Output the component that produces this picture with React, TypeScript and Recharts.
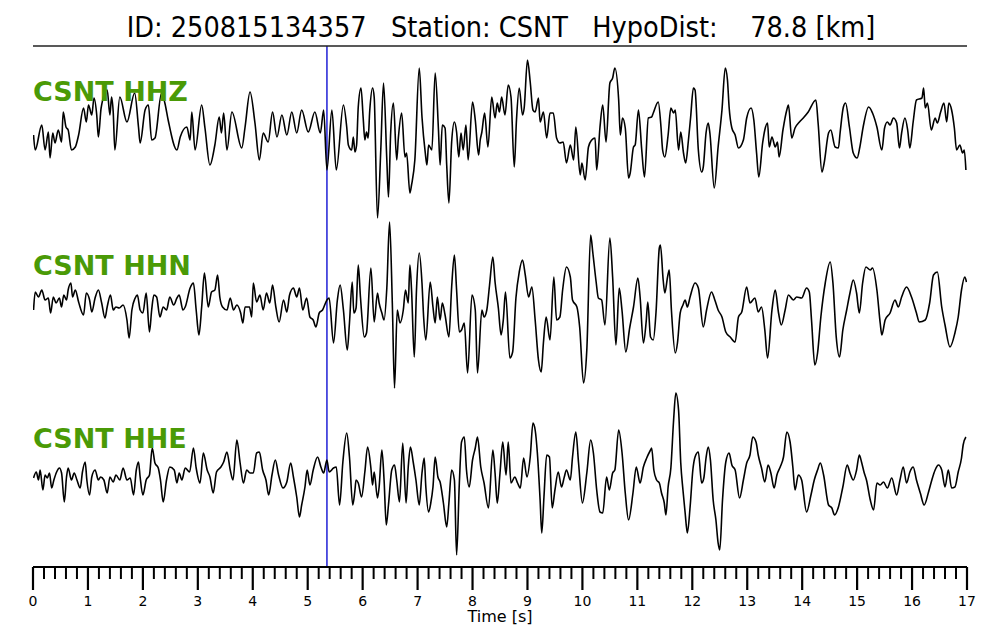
import React from 'react';
import { LineChart, Line, XAxis, YAxis, ReferenceLine } from 'recharts';

// waveform turning points: [time (s), amplitude]
const hhz: [number, number][] = [
  [0.01, -5], [0.04, -20], [0.16, 5], [0.22, -20], [0.28, -2], [0.31, -28], [0.36, -3], [0.40, -13], [0.46, 0], [0.52, -12],
  [0.55, 18], [0.60, 3], [0.64, 0], [0.70, -20], [0.77, -17], [0.83, -5], [0.92, 22], [0.97, 8], [1.01, 25], [1.07, 15],
  [1.11, 32], [1.16, 15], [1.19, -7], [1.24, 22], [1.35, 40], [1.40, 15], [1.43, 33], [1.46, 18], [1.49, -20], [1.58, 33],
  [1.71, 8], [1.85, 37], [1.92, 3], [1.95, -13], [2.04, 20], [2.10, 25], [2.16, -10], [2.22, -8], [2.34, 37], [2.40, 27],
  [2.46, 10], [2.62, -20], [2.68, -7], [2.80, 3], [2.86, -10], [2.89, 18], [2.95, -20], [3.07, 25], [3.13, 2], [3.22, -35],
  [3.31, -15], [3.39, 13], [3.43, -3], [3.47, 17], [3.53, -20], [3.62, 18], [3.80, -18], [3.86, 3], [3.95, 38], [4.04, 7],
  [4.12, -30], [4.19, -3], [4.28, -12], [4.36, 18], [4.44, -7], [4.53, 15], [4.62, -5], [4.71, 18], [4.80, -3], [4.89, 20],
  [5.01, -2], [5.13, 18], [5.23, -3], [5.29, 20], [5.35, -40], [5.44, 20], [5.52, -40], [5.65, 25], [5.71, 3], [5.74, -15],
  [5.80, -20], [5.83, -7], [5.86, -22], [5.89, -15], [5.92, 23], [5.97, 42], [6.01, 12], [6.04, -10], [6.07, -2], [6.10, -8],
  [6.13, 20], [6.18, 42], [6.21, 33], [6.27, -88], [6.33, -20], [6.38, 47], [6.44, -30], [6.47, -67], [6.51, -3], [6.56, 27],
  [6.62, -30], [6.65, -8], [6.71, 17], [6.77, -27], [6.80, -23], [6.86, -63], [6.89, -55], [6.95, -30], [7.03, 62], [7.08, 13],
  [7.14, -23], [7.17, -35], [7.20, -15], [7.26, -20], [7.32, 57], [7.38, 0], [7.41, -35], [7.45, 5], [7.50, 2], [7.53, -35],
  [7.57, -73], [7.62, -12], [7.67, 8], [7.71, -2], [7.75, -27], [7.79, -3], [7.83, -20], [7.88, 5], [7.92, -30], [8.00, 28],
  [8.05, 10], [8.11, -25], [8.14, -10], [8.17, -2], [8.22, 17], [8.28, -17], [8.35, 33], [8.41, 12], [8.45, 27], [8.49, 18],
  [8.53, 33], [8.59, 15], [8.65, 45], [8.70, 33], [8.76, -37], [8.80, 10], [8.85, 42], [8.91, 15], [8.94, 22], [9.00, 70],
  [9.05, 48], [9.10, 20], [9.14, 18], [9.20, 32], [9.23, 8], [9.29, 18], [9.35, -8], [9.41, 17], [9.47, 17], [9.53, -8],
  [9.59, -13], [9.65, -12], [9.71, -33], [9.78, -15], [9.84, -30], [9.88, 3], [9.96, -45], [9.99, -33], [10.05, -50], [10.11, -17],
  [10.17, -10], [10.23, -8], [10.26, -40], [10.32, 3], [10.37, 25], [10.43, -12], [10.50, 47], [10.55, 52], [10.59, 62], [10.66, 30],
  [10.69, -5], [10.73, 12], [10.78, 2], [10.84, -48], [10.87, -43], [10.93, -17], [10.96, -15], [11.02, 20], [11.08, -20], [11.13, -47],
  [11.20, 12], [11.26, 13], [11.29, 17], [11.38, 28], [11.43, 3], [11.46, -20], [11.50, -27], [11.56, -5], [11.61, 22], [11.66, 17],
  [11.69, 20], [11.75, -20], [11.79, -2], [11.84, -23], [11.88, -33], [11.93, -10], [11.97, 13], [12.02, 42], [12.05, 40], [12.11, -20],
  [12.17, -42], [12.20, -37], [12.25, -3], [12.29, 7], [12.32, -3], [12.40, -58], [12.47, -17], [12.54, 20], [12.60, 62], [12.64, 50],
  [12.67, 23], [12.72, 2], [12.78, -5], [12.84, -18], [12.93, -10], [12.99, 12], [13.07, 22], [13.12, 10], [13.17, -23], [13.21, -47],
  [13.28, -13], [13.32, 0], [13.37, 7], [13.40, -17], [13.45, -7], [13.51, -17], [13.55, -12], [13.58, -27], [13.65, 0], [13.72, 20],
  [13.75, 25], [13.81, -8], [13.87, 2], [13.95, 8], [14.02, 12], [14.11, 18], [14.25, 30], [14.29, 7], [14.36, -42], [14.40, -33],
  [14.48, -3], [14.52, 0], [14.60, -17], [14.66, -18], [14.69, -3], [14.75, 23], [14.79, 27], [14.86, 3], [14.93, -23], [15.00, -28],
  [15.05, -17], [15.11, 3], [15.21, 23], [15.28, 17], [15.36, 3], [15.45, -20], [15.50, 2], [15.55, 8], [15.60, 5], [15.66, 12],
  [15.72, 7], [15.77, -18], [15.81, -3], [15.87, 12], [15.92, 0], [15.96, -18], [16.02, 8], [16.08, 30], [16.18, 32], [16.21, 42],
  [16.24, 22], [16.28, 27], [16.35, 0], [16.42, 12], [16.46, 7], [16.52, 18], [16.58, 27], [16.63, 8], [16.67, 27], [16.72, 20],
  [16.77, 2], [16.81, -20], [16.87, -15], [16.92, -23], [16.95, -20], [16.98, -40],
];

const hhn: [number, number][] = [
  [0.01, -10], [0.04, 8], [0.10, 3], [0.16, 10], [0.22, 0], [0.28, 2], [0.32, -13], [0.37, 3], [0.42, -3], [0.48, 2],
  [0.52, -7], [0.56, 5], [0.61, 0], [0.64, 10], [0.69, 17], [0.72, 3], [0.77, 10], [0.83, -2], [0.92, -15], [0.97, 7],
  [1.03, 0], [1.07, -12], [1.13, 2], [1.19, 10], [1.25, -3], [1.31, -18], [1.35, -7], [1.41, 5], [1.46, -10], [1.51, -7],
  [1.57, -8], [1.64, -5], [1.71, -20], [1.75, -38], [1.80, -10], [1.86, 2], [1.90, 5], [1.95, -10], [2.00, -13], [2.06, 7],
  [2.12, -32], [2.16, -10], [2.20, 5], [2.25, 3], [2.31, -17], [2.37, -7], [2.43, -10], [2.49, 3], [2.56, -5], [2.62, 2],
  [2.66, 5], [2.73, -10], [2.77, -7], [2.86, 12], [2.92, 17], [2.97, -10], [3.02, -35], [3.07, -7], [3.12, 27], [3.19, -7],
  [3.25, 8], [3.31, 10], [3.36, 25], [3.40, 3], [3.45, -7], [3.53, -10], [3.59, 2], [3.65, -10], [3.71, -5], [3.78, -13],
  [3.82, -23], [3.86, -7], [3.94, -7], [3.98, -17], [4.01, 17], [4.07, -2], [4.13, 5], [4.19, -10], [4.25, 7], [4.31, -3],
  [4.36, 15], [4.42, -7], [4.48, -22], [4.56, 0], [4.62, -12], [4.67, 5], [4.74, 12], [4.80, 3], [4.85, 12], [4.91, -10],
  [4.98, 2], [5.04, -17], [5.10, -20], [5.15, -27], [5.21, -13], [5.27, -10], [5.35, 0], [5.39, 2], [5.47, -43], [5.54, 0],
  [5.59, 15], [5.65, -10], [5.72, -50], [5.76, -23], [5.81, 18], [5.84, -13], [5.88, -8], [5.92, 35], [5.96, 3], [6.03, -37],
  [6.07, -33], [6.15, 32], [6.21, -22], [6.27, 7], [6.30, -3], [6.35, -13], [6.39, -20], [6.44, 12], [6.49, 78], [6.54, -3],
  [6.58, -88], [6.63, -10], [6.68, -23], [6.74, -10], [6.78, 10], [6.83, -3], [6.86, 35], [6.89, 10], [6.94, -57], [6.98, 10],
  [7.03, 47], [7.08, 17], [7.11, -17], [7.15, -40], [7.23, 18], [7.28, -7], [7.32, -23], [7.36, 3], [7.41, -20], [7.45, -3],
  [7.50, -15], [7.57, -37], [7.62, 13], [7.67, 45], [7.71, 10], [7.76, -32], [7.80, -30], [7.85, -23], [7.91, -73], [7.99, 5],
  [8.05, -10], [8.09, -73], [8.17, -10], [8.21, -17], [8.26, -10], [8.31, 15], [8.37, 43], [8.41, 18], [8.47, -8], [8.52, -35],
  [8.56, -20], [8.60, 8], [8.68, -58], [8.73, -52], [8.79, 2], [8.85, 28], [8.91, 40], [8.96, 25], [9.02, 3], [9.08, 13],
  [9.14, -20], [9.20, -60], [9.25, -72], [9.29, -43], [9.34, -17], [9.41, -40], [9.48, 23], [9.53, -20], [9.59, -17], [9.64, 10],
  [9.71, 33], [9.78, 23], [9.82, 0], [9.90, -7], [9.95, -27], [10.02, -83], [10.08, -50], [10.15, 65], [10.19, 47], [10.25, 18],
  [10.29, 2], [10.35, 0], [10.41, -25], [10.50, 62], [10.55, 23], [10.61, -45], [10.67, 12], [10.72, -10], [10.79, -52], [10.86, -28],
  [10.93, -7], [11.01, 22], [11.05, 3], [11.11, -43], [11.16, -22], [11.19, -2], [11.24, -37], [11.29, -40], [11.34, -12], [11.40, 52],
  [11.42, 55], [11.47, 20], [11.50, 7], [11.55, 23], [11.58, 30], [11.62, -10], [11.69, -53], [11.73, -43], [11.78, -13], [11.83, -5],
  [11.87, 0], [11.91, -7], [11.96, 3], [12.05, 17], [12.11, 12], [12.20, -27], [12.26, -10], [12.35, 8], [12.41, 0], [12.47, -10],
  [12.54, -17], [12.61, -32], [12.69, -37], [12.78, -42], [12.84, -17], [12.90, -12], [12.99, 13], [13.05, -3], [13.14, 2], [13.20, -12],
  [13.26, -7], [13.32, -30], [13.37, -58], [13.45, -10], [13.51, 10], [13.57, -13], [13.62, -25], [13.69, -10], [13.75, 5], [13.84, 0],
  [13.90, 3], [13.99, 2], [14.08, 12], [14.13, 8], [14.17, -20], [14.23, -65], [14.28, -53], [14.34, -17], [14.42, 17], [14.51, 38],
  [14.56, 17], [14.62, -37], [14.68, -57], [14.74, -30], [14.81, -10], [14.87, 7], [14.93, 20], [14.99, 7], [15.04, -13], [15.10, 17],
  [15.16, 33], [15.24, 30], [15.28, 32], [15.36, 10], [15.42, -23], [15.45, -35], [15.51, -20], [15.60, -13], [15.69, 0], [15.75, -7],
  [15.81, 3], [15.90, 13], [15.99, 3], [16.08, -13], [16.13, -22], [16.24, -20], [16.32, -3], [16.39, 25], [16.46, 28], [16.54, -7],
  [16.60, -25], [16.69, -47], [16.78, -33], [16.84, -17], [16.90, 10], [16.96, 23], [16.99, 18],
];

const hhe: [number, number][] = [
  [0.01, -8], [0.06, -2], [0.10, -10], [0.13, 0], [0.18, -20], [0.22, -5], [0.26, -8], [0.30, -3], [0.34, -18], [0.38, -10],
  [0.43, -2], [0.48, 2], [0.52, -3], [0.57, -32], [0.61, -7], [0.64, 2], [0.70, -10], [0.75, -3], [0.80, -10], [0.86, -18],
  [0.90, -2], [0.95, 8], [0.98, -10], [1.03, -25], [1.07, -7], [1.13, 0], [1.19, -10], [1.23, -7], [1.29, -10], [1.35, -23],
  [1.40, -7], [1.46, -12], [1.51, -5], [1.58, -10], [1.64, 2], [1.71, -10], [1.77, -8], [1.83, -25], [1.88, 0], [1.92, 8],
  [1.95, -7], [2.00, -25], [2.06, -10], [2.12, -5], [2.17, 22], [2.22, 7], [2.28, 2], [2.32, -10], [2.37, -32], [2.43, -10],
  [2.49, 3], [2.57, 0], [2.62, -13], [2.66, -3], [2.71, -10], [2.77, 2], [2.85, -2], [2.92, 22], [2.97, 2], [3.04, -13],
  [3.10, 17], [3.17, 0], [3.22, -7], [3.28, -23], [3.34, -2], [3.42, 3], [3.47, 8], [3.53, 18], [3.59, 0], [3.64, -10],
  [3.71, 30], [3.77, 7], [3.83, -13], [3.89, 0], [3.95, -3], [4.01, -3], [4.07, 17], [4.12, 18], [4.18, 0], [4.24, -10],
  [4.29, -25], [4.35, -5], [4.41, 10], [4.47, -5], [4.55, -18], [4.62, -12], [4.69, 7], [4.74, -7], [4.80, -27], [4.85, -47],
  [4.89, -35], [4.95, -17], [4.99, 0], [5.04, -15], [5.10, 0], [5.18, 13], [5.24, 3], [5.29, -3], [5.35, 10], [5.39, -2],
  [5.47, 2], [5.52, 3], [5.58, -35], [5.64, 8], [5.71, 37], [5.76, 13], [5.82, -35], [5.86, -20], [5.88, -10], [5.92, -13],
  [5.98, -27], [6.04, -2], [6.09, 23], [6.15, 2], [6.18, -15], [6.21, -2], [6.27, -28], [6.30, -17], [6.35, 20], [6.39, -10],
  [6.43, -55], [6.47, -35], [6.53, 0], [6.58, 5], [6.62, -10], [6.67, -32], [6.73, 27], [6.79, -33], [6.83, 3], [6.87, 23],
  [6.92, 8], [6.97, -10], [7.03, -35], [7.08, -3], [7.12, 12], [7.15, -17], [7.20, -42], [7.24, -33], [7.28, -17], [7.32, 13],
  [7.37, -7], [7.41, -12], [7.47, -33], [7.53, -57], [7.57, -33], [7.62, 0], [7.67, -10], [7.71, -85], [7.76, -13], [7.80, 28],
  [7.85, 33], [7.89, 0], [7.94, -17], [8.00, 10], [8.05, 22], [8.09, 33], [8.15, 3], [8.21, -13], [8.29, -38], [8.37, 20],
  [8.41, -3], [8.45, -33], [8.50, -3], [8.55, 28], [8.61, -5], [8.65, 28], [8.70, -13], [8.77, -7], [8.82, -13], [8.87, -18],
  [8.93, 12], [8.99, -7], [9.05, 13], [9.10, 47], [9.14, 40], [9.18, 17], [9.23, -30], [9.26, -63], [9.30, -27], [9.35, 15],
  [9.40, 13], [9.45, -38], [9.50, -20], [9.56, -2], [9.62, -17], [9.67, -7], [9.71, 0], [9.78, -10], [9.82, 13], [9.88, 38],
  [9.93, 7], [10.00, -33], [10.08, -3], [10.15, 30], [10.20, 17], [10.26, -20], [10.32, -42], [10.37, -43], [10.44, -7], [10.49, -20],
  [10.55, -3], [10.59, 0], [10.66, 40], [10.72, 18], [10.78, -23], [10.84, -50], [10.92, -23], [10.98, 3], [11.05, -13], [11.11, 3],
  [11.17, 12], [11.24, 20], [11.26, 22], [11.30, 0], [11.35, -10], [11.40, -13], [11.44, -23], [11.49, -33], [11.52, -45], [11.56, -17],
  [11.61, 2], [11.66, 50], [11.70, 77], [11.75, 60], [11.79, 7], [11.83, -20], [11.87, -43], [11.91, -63], [11.96, -37], [12.01, 0],
  [12.05, 13], [12.11, 18], [12.17, -13], [12.21, -8], [12.25, 12], [12.29, 23], [12.33, 10], [12.38, -30], [12.43, -50], [12.47, -73],
  [12.50, -80], [12.55, -30], [12.61, 8], [12.67, 17], [12.72, 5], [12.78, 0], [12.86, -28], [12.93, -10], [12.99, 7], [13.05, 15],
  [13.10, 33], [13.16, 28], [13.20, 15], [13.26, 2], [13.32, -12], [13.38, 5], [13.43, -3], [13.49, -18], [13.54, -5], [13.60, 3],
  [13.66, 13], [13.72, 38], [13.78, 28], [13.83, 3], [13.87, -20], [13.93, -5], [13.99, -10], [14.08, -42], [14.16, -25], [14.22, -10],
  [14.28, 0], [14.33, 7], [14.39, -5], [14.48, -35], [14.54, -38], [14.59, -45], [14.66, -37], [14.74, -17], [14.82, 5], [14.87, -3],
  [14.93, -10], [14.99, 0], [15.04, 15], [15.08, 8], [15.13, -3], [15.17, -10], [15.24, -30], [15.30, -40], [15.36, -13], [15.42, -15],
  [15.48, -12], [15.55, -18], [15.63, -8], [15.72, -25], [15.78, -10], [15.84, 3], [15.90, -13], [15.96, -2], [16.02, 3], [16.08, -10],
  [16.15, -23], [16.22, -35], [16.30, -22], [16.36, -10], [16.42, 0], [16.48, 5], [16.54, 0], [16.60, -17], [16.66, 0], [16.72, -18],
  [16.78, -17], [16.84, -2], [16.90, 12], [16.93, 25], [16.98, 33],
];

const station = 'CSNT';
const eventId = '250815134357';
const hypoDist = 78.8;
const pickTime = 5.35;
const channels = ['HHZ', 'HHN', 'HHE'];
const secondTicks = [0, 1, 2, 3, 4, 5, 6, 7, 8, 9, 10, 11, 12, 13, 14, 15, 16, 17];
const minorSteps = [0.2, 0.4, 0.6, 0.8];

// each trace gets its own hidden y axis, shifted so the three sit one above the other
const yDomains: Record<string, [number, number]> = {
  HHZ: [-437, 84],
  HHN: [-267, 254],
  HHE: [-97, 424],
};
const labelBaselines = [101, 275, 448];

const traces: Record<string, [number, number][]> = { HHZ: hhz, HHN: hhn, HHE: hhe };
const toRows = (pts: [number, number][]) => pts.map(([t, v]) => ({ t, v }));

const allTicks = secondTicks.flatMap((s) =>
  s === 17 ? [s] : [s, ...minorSteps.map((m) => Math.round((s + m) * 10) / 10)]
);

const TimeTick = ({ x, y, payload }: any) => {
  const v = payload.value;
  const major = Math.abs(v - Math.round(v)) < 1e-6;
  return (
    <g>
      <line x1={x} x2={x} y1={y} y2={y + (major ? 23 : 12)} stroke="#000" strokeWidth={major ? 2.2 : 2} />
      {major && (
        <text x={x} y={y + 39} textAnchor="middle" fontSize={14} fontFamily="DejaVu Sans" fill="#000">
          {Math.round(v)}
        </text>
      )}
    </g>
  );
};

const App: React.FC = () => {
  return (
    <div style={{ position: 'absolute', left: 0, top: 0, width: 1000, height: 640, background: '#fff' }}>
      <LineChart width={1000} height={640} margin={{ top: 46, right: 33, bottom: 0, left: 33 }}>
        <XAxis
          type="number"
          dataKey="t"
          domain={[0, 17]}
          ticks={allTicks}
          interval={0}
          tick={<TimeTick />}
          tickLine={false}
          tickSize={0}
          tickMargin={0}
          height={73}
          axisLine={{ stroke: '#000', strokeWidth: 2 }}
          allowDataOverflow
        />
        {channels.map((ch) => (
          <YAxis key={ch} yAxisId={ch} hide domain={yDomains[ch]} allowDataOverflow />
        ))}
        <ReferenceLine x={pickTime} yAxisId="HHZ" stroke="#1f1fd6" strokeWidth={1.5} />
        {channels.map((ch) => (
          <Line
            key={ch}
            yAxisId={ch}
            data={toRows(traces[ch])}
            dataKey="v"
            type="monotoneX"
            stroke="#000"
            strokeWidth={1.6}
            dot={false}
            activeDot={false}
            isAnimationActive={false}
          />
        ))}
      </LineChart>
      <svg width={1000} height={640} style={{ position: 'absolute', left: 0, top: 0, pointerEvents: 'none' }}>
        <text
          x={501}
          y={37}
          textAnchor="middle"
          fontSize={28.5}
          fontFamily="'DejaVu Sans Condensed', 'DejaVu Sans'"
          style={{ whiteSpace: 'pre', fontStretch: 'condensed' }}
          fill="#000"
        >
          {`ID: ${eventId}   Station: ${station}   HypoDist:    ${hypoDist.toFixed(1)} [km]`}
        </text>
        <line x1={33} x2={967} y1={46} y2={46} stroke="#222" strokeWidth={1.5} />
        {channels.map((ch, i) => (
          <text key={ch} x={33} y={labelBaselines[i]} fontSize={27} fontWeight="bold" fontFamily="DejaVu Sans" fill="#4a9a06">
            {`${station} ${ch}`}
          </text>
        ))}
        <text x={500} y={622} textAnchor="middle" fontSize={16} fontFamily="DejaVu Sans" fill="#000">
          Time [s]
        </text>
      </svg>
    </div>
  );
};

export default App;
